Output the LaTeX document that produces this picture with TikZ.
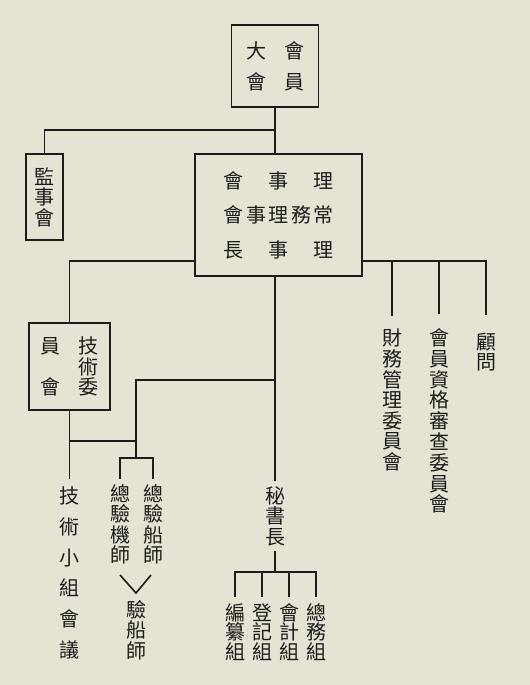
\documentclass[tikz,border=0pt]{standalone}
\usepackage{fontspec}
\newfontfamily\cjk{Noto Sans CJK TC}
\usepackage{tikz}
\usetikzlibrary{positioning}
\definecolor{paper}{RGB}{229,227,212}
\definecolor{ink}{RGB}{30,28,26}
% font size, line pitch
\newcommand{\vfont}[2]{\cjk\fontsize{#1}{#2}\selectfont\lineskiplimit=-20pt\relax}
\tikzset{
    boxnode/.style={
        draw=ink,
        line width=1.4pt,
        inner sep=0pt,
        align=center,
        text=ink,
        font=\vfont{15}{15.4}
    },
    % vertical text columns
    vtxt/.style={
        inner sep=0pt,
        align=center,
        text=ink,
        font=\vfont{15}{15.4}
    },
    link/.style={
        line width=1.2pt,
        draw=ink
    }
}

\begin{document}
\begin{tikzpicture}[x=0.75pt,y=-0.75pt]

    \fill[paper] (0,0) rectangle (530,685);
    \useasboundingbox (0,0) rectangle (530,685);

    % boxes
    \node[boxnode, minimum width=65.25pt, minimum height=61.5pt,
          font=\vfont{15}{23.25}] (gm) at (275,66)
        {\makebox[43.5pt][s]{大\hfill 會}\\\makebox[43.5pt][s]{會\hfill 員}};
    \node[boxnode, minimum width=27.75pt, minimum height=64.5pt] (sup) at (44.5,197)
        {監\\事\\會};
    \node[boxnode, minimum width=125.25pt, minimum height=91.5pt,
          font=\vfont{15}{25.9}] (board) at (278.5,215)
        {\makebox[82.5pt][s]{會\hfill 事\hfill 理}\\
         \makebox[82.5pt][s]{會\hfill 事\hfill 理\hfill 務\hfill 常}\\
         \makebox[82.5pt][s]{長\hfill 事\hfill 理}};
    \node[boxnode, minimum width=60.75pt, minimum height=65.25pt] (tech) at (69.5,366.5)
        {\makebox[44.2pt][s]{員\hfill 技}\\\makebox[44.2pt][r]{術}\\\makebox[44.2pt][s]{會\hfill 委}};

    % right column texts
    \node[vtxt, outer ysep=10pt] (fin) at (392,400) {財\\務\\管\\理\\委\\員\\會};
    \node[vtxt, outer ysep=11pt, font=\vfont{15}{15.6}] (memb) at (439,421)
        {會\\員\\資\\格\\審\\查\\委\\員\\會};
    \node[vtxt, outer ysep=13pt] (adv) at (486,352) {顧\\問};

    % lower texts
    \node[vtxt, outer ysep=6pt, font=\vfont{15}{23.1}] (tsm) at (69.5,573)
        {技\\術\\小\\組\\會\\議};
    \node[vtxt, outer ysep=4pt] (eng) at (120,524.5) {總\\驗\\機\\師};
    \node[vtxt, outer ysep=4pt] (cap) at (153,524.5) {總\\驗\\船\\師};
    \node[vtxt] (insp) at (136,630) {驗\\船\\師};
    \node[vtxt, outer ysep=4pt] (sec) at (275,516) {秘\\書\\長};
    \node[vtxt, outer ysep=5pt, font=\vfont{15}{14.6}] (g1) at (235,632) {編\\纂\\組};
    \node[vtxt, outer ysep=5pt, font=\vfont{15}{14.6}] (g2) at (262,632) {登\\記\\組};
    \node[vtxt, outer ysep=5pt, font=\vfont{15}{14.6}] (g3) at (289,632) {會\\計\\組};
    \node[vtxt, outer ysep=5pt, font=\vfont{15}{14.6}] (g4) at (316,632) {總\\務\\組};

    % junctions
    \coordinate (top) at (275,130);
    \coordinate (lb) at (board.west |- 0,261);
    \coordinate (rb) at (board.east |- 0,261);
    \coordinate (mb) at (sec.north |- 0,380);
    \coordinate (ib) at (136,458);
    \coordinate (gb) at (275,572);

    % upper links
    \draw[link] (gm.south) -- (top) -- (top |- board.north);
    \draw[link] (top) -| (sup.north);
    \draw[link] (lb) -| (tech.north);
    \draw[link] (rb) -| (adv.north);
    \draw[link] (rb -| fin.north) -- (fin.north);
    \draw[link] (rb -| memb.north) -- (memb.north);

    % centre
    \draw[link] (sec.north |- board.south) -- (sec.north);
    \draw[link] (mb) -| (ib);
    \draw[link] (eng.north) |- (ib) -| (cap.north);
    \draw[link] (tech.south) -- (tsm.north);
    \draw[link] (tech.south |- 0,441) -- (ib |- 0,441);

    % V mark
    \draw[link] (120,575) -- (136,593) -- (151,575);

    % sections
    \draw[link] (sec.south) -- (gb);
    \draw[link] (g1.north) |- (gb) -| (g4.north);
    \draw[link] (g2.north) -- (g2.north |- gb);
    \draw[link] (g3.north) -- (g3.north |- gb);

\end{tikzpicture}
\end{document}
